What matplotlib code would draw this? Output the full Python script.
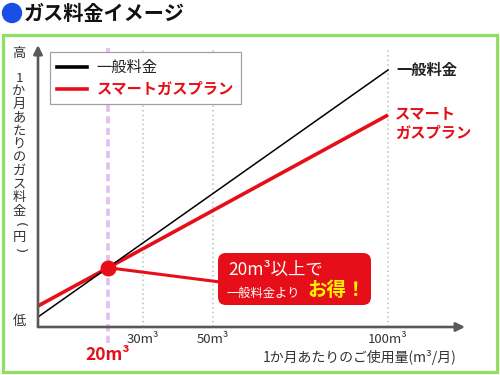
import matplotlib
matplotlib.use('Agg')
import matplotlib.pyplot as plt
from matplotlib.lines import Line2D
from matplotlib.patches import FancyBboxPatch, Rectangle, Circle, ConnectionPatch
import numpy as np

plt.rcParams['font.family'] = ['Noto Sans CJK JP', 'DejaVu Sans']

# ---- data ----
usage = [0, 100]                    # m3 / month
general_fee = [10, 257]             # relative monthly cost (一般料金)
smart_fee = [21, 212]               # relative monthly cost (スマートガスプラン)
series_names = ['一般料金', 'スマートガスプラン']
tick_values = [30, 50, 100]
tick_labels = ['30m³', '50m³', '100m³']
highlight_usage = 20
highlight_label = '20m³'
title = 'ガス料金イメージ'
y_label = '1か月あたりのガス料金(円)'
y_high, y_low = '高', '低'
x_label = '1か月あたりのご使用量(m³/月)'
callout_line1 = '20m³以上で'
callout_line2 = '一般料金より'
callout_strong = 'お得！'

RED = '#e60f19'
AXIS = '#595959'
GREEN = '#8fe060'

fig = plt.figure(figsize=(5, 3.75), dpi=100)
fig.patch.set_facecolor('white')

ax = fig.add_axes([38 / 500, 1 - 327 / 375, 427 / 500, 280 / 375])
ax.set_xlim(0, 122)
ax.set_ylim(0, 280)
for s in ax.spines.values():
    s.set_visible(False)
ax.set_yticks([])
ax.set_xticks(tick_values)
ax.set_xticklabels(tick_labels, fontsize=9.5, color='#333333')
ax.tick_params(axis='x', length=0, pad=4)

# axes arrows
arrow_kw = dict(arrowstyle='-|>', color=AXIS, lw=1.9, mutation_scale=13,
                shrinkA=0, shrinkB=0)
ax.annotate('', xy=(0, 1.007), xytext=(0, 0), xycoords='axes fraction',
            arrowprops=arrow_kw, annotation_clip=False, zorder=7)
ax.annotate('', xy=(1.0, 0), xytext=(0, 0), xycoords='axes fraction',
            arrowprops=arrow_kw, annotation_clip=False, zorder=7)

# guide lines
for v in tick_values:
    ax.plot([v, v], [0, 279], color='#bdbdbd', lw=1.1, ls=(0, (1, 2)), zorder=1)
ax.plot([highlight_usage, highlight_usage], [-16, 279], color='#e4bdf2', lw=2.6,
        ls=(0, (2, 1.2)), zorder=1, clip_on=False)

# series
ax.plot(usage, smart_fee, color=RED, lw=2.6, zorder=4, solid_capstyle='butt')
ax.plot(usage, general_fee, color='black', lw=1.1, zorder=5)

ydot = (np.interp(highlight_usage, usage, general_fee) + np.interp(highlight_usage, usage, smart_fee)) / 2
ax.plot([highlight_usage], [ydot], 'o', ms=10.5, color=RED, zorder=6)

# end labels
ax.annotate(series_names[0], xy=(usage[-1], general_fee[-1]), xytext=(6, 0),
            textcoords='offset points', va='center', ha='left', fontsize=11,
            weight='bold', color='#222222')
ax.annotate(series_names[1][:4] + '\n' + series_names[1][4:], xy=(usage[-1], smart_fee[-1]),
            xytext=(5, 7), textcoords='offset points', va='top', ha='left', fontsize=11,
            weight='bold', color=RED, linespacing=1.25)

# legend
handles = [Line2D([], [], color='black', lw=2.6), Line2D([], [], color=RED, lw=2.6)]
leg = ax.legend(handles, series_names, loc='upper left', bbox_to_anchor=(0.028, 0.982),
                borderaxespad=0, fancybox=False, edgecolor='#a0a0a0', framealpha=1,
                fontsize=11, handlelength=2.0, handletextpad=0.6, labelspacing=0.35,
                borderpad=0.45)
leg.get_frame().set_linewidth(0.9)
leg.set_zorder(8)
texts = leg.get_texts()
texts[0].set_color('#222222')
texts[1].set_color(RED)
texts[1].set_fontweight('bold')

# highlight tick label
ax.annotate(highlight_label, xy=(highlight_usage, 0), xycoords=('data', 'axes fraction'),
            xytext=(0, -28), textcoords='offset pixels', ha='center', va='center',
            fontsize=12.5, weight='bold', color=RED, annotation_clip=False)

# ---- overlay (pixel space) ----
ov = fig.add_axes([0, 0, 1, 1], zorder=10)
ov.set_xlim(0, 500)
ov.set_ylim(375, 0)
ov.axis('off')
ov.patch.set_alpha(0)

ov.add_patch(Rectangle((2.5, 34.5), 494, 337.5, fill=False, ec=GREEN, lw=2.3))
ov.add_patch(Circle((12, 13), 9.5, color='#1a4fe6'))
ov.text(24, 13, title, fontsize=14.5, weight='bold', va='center', ha='left', color='#111111')

# y axis words (vertical writing)
ov.text(19, 53, y_high, fontsize=9.5, ha='center', va='center', color='#333333')
ov.text(19, 322, y_low, fontsize=9.5, ha='center', va='center', color='#333333')
n = len(y_label)
for i, ch in enumerate(y_label):
    yy = 78 + i * (173 / (n - 1))
    if ch in '()':
        ov.text(19, yy, ch, fontsize=9.5, ha='center', va='center', color='#333333',
                rotation=-90, family='DejaVu Sans')
    else:
        ov.text(19, yy, ch, fontsize=9.5, ha='center', va='center', color='#333333')

ov.text(360, 357, x_label, fontsize=10, ha='center', va='center', color='#333333')

# callout box
ov.add_patch(FancyBboxPatch((218, 253), 153, 52, boxstyle='round,pad=0,rounding_size=8',
                            fc=RED, ec='none', zorder=2))
con = ConnectionPatch(xyA=(highlight_usage, ydot), coordsA=ax.transData,
                      xyB=(220, 282), coordsB=ov.transData, color=RED, lw=2.2)
fig.add_artist(con)
ov.text(228, 270, callout_line1, fontsize=12.5, color='white', ha='left', va='center', zorder=3)
ov.text(226, 293, callout_line2, fontsize=8.8, color='white', ha='left', va='center', zorder=3)
ov.text(307, 290, callout_strong, fontsize=14, weight='bold', color='#fff200', ha='left',
        va='center', zorder=3)

fig.savefig('out.png', dpi=100)
